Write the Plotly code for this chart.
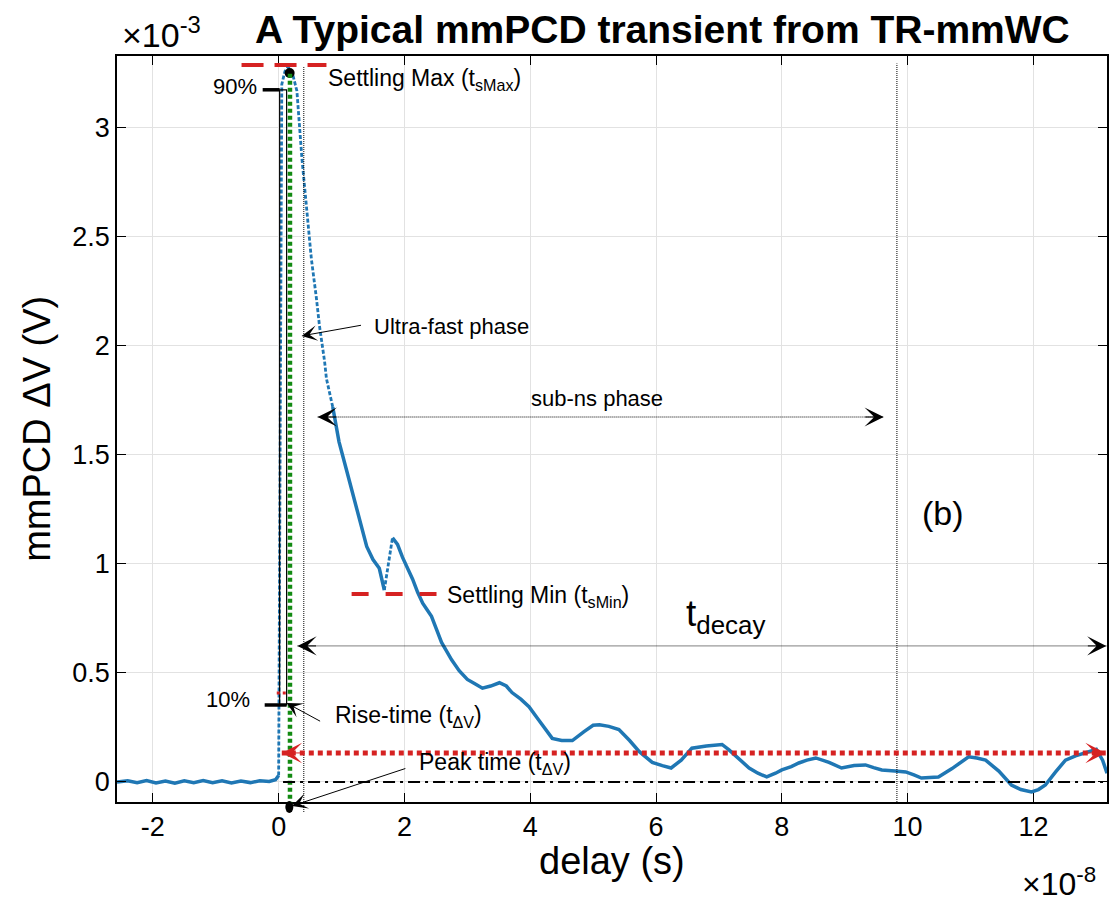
import plotly.graph_objects as go

# ---------------- data (delay in units of 1e-8 s, dV in units of 1e-3 V) -------------
delay = [-2.57, -2.4, -2.25, -2.1, -1.95, -1.8, -1.65, -1.5, -1.35, -1.2, -1.05, -0.9,
         -0.75, -0.6, -0.45, -0.3, -0.15, -0.05, 0.0,
         0.02, 0.05, 0.10, 0.15, 0.22, 0.29, 0.37, 0.45, 0.52, 0.60, 0.65, 0.73, 0.76, 0.86,
         0.96, 1.08, 1.16, 1.24, 1.32, 1.40, 1.50, 1.60, 1.68,
         1.81, 1.89, 1.97, 2.05, 2.13, 2.21, 2.29, 2.36, 2.43, 2.51, 2.59, 2.67, 2.75, 2.87,
         3.0, 3.12, 3.24, 3.37, 3.51, 3.62, 3.71, 3.85, 3.98, 4.12, 4.25, 4.35, 4.5, 4.67,
         4.85, 5.0, 5.1, 5.25, 5.41, 5.58, 5.73, 5.94, 6.1, 6.24, 6.4, 6.57, 6.8, 7.0, 7.05,
         7.16, 7.3, 7.48, 7.62, 7.76, 7.9, 8.0, 8.15, 8.27, 8.4, 8.54, 8.75, 8.95, 9.15, 9.33,
         9.46, 9.59, 9.8, 9.97, 10.1, 10.22, 10.35, 10.49, 10.7, 10.97, 11.1, 11.24, 11.45,
         11.65, 11.8, 11.97, 12.08, 12.19, 12.35, 12.51, 12.67, 12.83, 13.0, 13.1, 13.17]
dv = [0.0, 0.005, -0.004, 0.006, -0.005, 0.004, -0.006, 0.005, -0.003, 0.006, -0.004, 0.005,
      -0.005, 0.004, -0.003, 0.005, 0.002, 0.01, 0.03,
      1.6, 3.2, 3.26, 3.28, 3.25, 3.17, 2.86, 2.60, 2.40, 2.22, 2.09, 1.93, 1.85, 1.72,
      1.56, 1.43, 1.34, 1.26, 1.17, 1.08, 1.02, 0.98, 0.88,
      1.12, 1.09, 1.03, 0.98, 0.93, 0.87, 0.82, 0.79, 0.76, 0.70, 0.64, 0.60, 0.56, 0.51,
      0.47, 0.45, 0.43, 0.44, 0.455, 0.44, 0.41, 0.38, 0.345, 0.29, 0.24, 0.20, 0.19, 0.19,
      0.23, 0.26, 0.262, 0.255, 0.24, 0.19, 0.14, 0.09, 0.075, 0.064, 0.10, 0.155, 0.165, 0.17, 0.172,
      0.147, 0.11, 0.064, 0.04, 0.023, 0.04, 0.055, 0.07, 0.087, 0.10, 0.11, 0.09, 0.064, 0.075, 0.078,
      0.066, 0.055, 0.05, 0.046, 0.032, 0.018, 0.02, 0.023, 0.06, 0.115, 0.11, 0.10, 0.05,
      -0.014, -0.035, -0.046, -0.035, -0.014, 0.045, 0.10, 0.12, 0.133, 0.15, 0.10, 0.04]

x_ticks = [-2, 0, 2, 4, 6, 8, 10, 12]
x_tick_labels = ["-2", "0", "2", "4", "6", "8", "10", "12"]
y_ticks = [0, 0.5, 1, 1.5, 2, 2.5, 3]
y_tick_labels = ["0", "0.5", "1", "1.5", "2", "2.5", "3"]

# characteristic values (same units)
t_rise_start, t_rise_end = 0.016, 0.127
v10, v90 = 0.353, 3.175
t_peak = 0.18
peak_point = (0.175, 3.252)
t_ultrafast_end = 0.40
t_subns_end = 9.83
v_settle_max, t_settle_max = 3.289, (-0.59, 0.76)
v_settle_min, t_settle_min = 0.862, (1.16, 2.51)
subns_arrow = (0.62, 9.62, 1.674)
decay_arrow = (0.30, 13.16, 0.624)
red_arrow = (0.05, 13.15, 0.133)
zero_ref = (0.07, 13.17, 0.0)

XR = [-2.57, 13.17]
YR = [-0.092, 3.33]

BLUE = "#1f77b4"
RED = "#d62222"
GREEN = "#128a12"
FONT = "Liberation Sans, Arial, sans-serif"


def ypaper(v):
    return (v - YR[0]) / (YR[1] - YR[0])


fig = go.Figure()

i_rise = delay.index(0.0)
i_fast = delay.index(0.86)
i_min = delay.index(1.68)
i_jump = delay.index(1.81)
segments = [(0, i_rise, "solid", 3.5), (i_rise, i_fast, "4px,2px", 2.8),
            (i_fast, i_min, "solid", 3.5), (i_min, i_jump, "4px,2px", 2.8),
            (i_jump, len(delay) - 1, "solid", 3.5)]
for a, b, dash, w in segments:
    fig.add_trace(go.Scatter(x=delay[a:b + 1], y=dv[a:b + 1], mode="lines",
                             line=dict(color=BLUE, width=w, dash=dash),
                             showlegend=False, hoverinfo="skip"))

fig.add_trace(go.Scatter(x=[peak_point[0]], y=[peak_point[1]],
                         mode="markers", marker=dict(color="black", size=10),
                         cliponaxis=False, showlegend=False, hoverinfo="skip"))

shapes = []
shapes.append(dict(type="rect", x0=t_rise_start, x1=t_rise_end, y0=v10, y1=v90,
                   line=dict(color="black", width=1.2)))
shapes.append(dict(type="line", x0=-0.254, x1=t_rise_start, y0=v90, y1=v90,
                   line=dict(color="black", width=3.5)))
shapes.append(dict(type="line", x0=-0.222, x1=t_rise_end, y0=v10, y1=v10,
                   line=dict(color="black", width=3.5)))
shapes.append(dict(type="line", x0=-0.03, x1=0.17, y0=0.408, y1=0.408,
                   line=dict(color=RED, width=3, dash="3px,3px")))
shapes.append(dict(type="line", xref="x", yref="paper", x0=t_peak, x1=t_peak,
                   y0=-0.005, y1=ypaper(3.255), line=dict(color=GREEN, width=4.5, dash="4px,3px")))
shapes.append(dict(type="line", xref="x", yref="paper", x0=t_ultrafast_end, x1=t_ultrafast_end,
                   y0=-0.0134, y1=ypaper(3.28), line=dict(color="black", width=1, dash="1px,1px")))
shapes.append(dict(type="line", xref="x", yref="paper", x0=t_subns_end, x1=t_subns_end,
                   y0=0, y1=0.99, line=dict(color="black", width=1, dash="1px,1px")))
shapes.append(dict(type="line", x0=t_settle_max[0], x1=t_settle_max[1], y0=v_settle_max,
                   y1=v_settle_max, line=dict(color=RED, width=4, dash="22px,11px")))
shapes.append(dict(type="line", x0=t_settle_min[0], x1=t_settle_min[1], y0=v_settle_min,
                   y1=v_settle_min, line=dict(color=RED, width=4, dash="17px,17px")))
for (xa, xb, yv) in [subns_arrow, decay_arrow]:
    shapes.append(dict(type="line", x0=xa, x1=xb, y0=yv, y1=yv,
                       line=dict(color="black", width=1, dash="1px,1px")))
shapes.append(dict(type="line", x0=red_arrow[0], x1=red_arrow[1], y0=red_arrow[2], y1=red_arrow[2],
                   line=dict(color=RED, width=5, dash="5px,4px")))
shapes.append(dict(type="line", x0=zero_ref[0], x1=zero_ref[1], y0=zero_ref[2], y1=zero_ref[2],
                   line=dict(color="black", width=2, dash="12px,5px,3px,5px")))
# peak-time marker dot just below the axis
shapes.append(dict(type="circle", xref="x", yref="paper", xsizemode="pixel", ysizemode="pixel",
                   xanchor=t_peak - 0.01, yanchor=-0.0067, x0=-4, x1=4, y0=-6, y1=6,
                   fillcolor="black", line=dict(color="black", width=0)))

ann = []


def head(x, y, dx, color="black", size=3.2, xref="x", yref="y"):
    ann.append(dict(x=x, y=y, xref=xref, yref=yref, ax=dx, ay=0, text="", showarrow=True,
                    arrowhead=3, arrowsize=size, arrowwidth=1, arrowcolor=color))


def arrow(x, y, ax, ay, size=2.6):
    ann.append(dict(x=x, y=y, xref="x", yref="y", axref="x", ayref="y", ax=ax, ay=ay,
                    text="", showarrow=True, arrowhead=3, arrowsize=size, arrowwidth=1,
                    arrowcolor="black"))


def label(x, y, text, size=22, xanchor="left", xref="x", yref="y", **kw):
    ann.append(dict(x=x, y=y, xref=xref, yref=yref, text=text, showarrow=False,
                    xanchor=xanchor, yanchor="middle", font=dict(family=FONT, size=size, color="black"), **kw))


head(subns_arrow[0], subns_arrow[2], 20)
head(subns_arrow[1], subns_arrow[2], -20)
head(decay_arrow[0], decay_arrow[2], 20)
head(decay_arrow[1], decay_arrow[2], -20)
head(red_arrow[0], red_arrow[2], 22, color=RED, size=3.4)
head(red_arrow[1], red_arrow[2], -22, color=RED, size=3.4)

arrow(0.365, 2.046, 1.333, 2.096)
arrow(0.127, 0.362, 0.683, 0.275)
ann.append(dict(x=0.21, y=-0.0054, xref="x", yref="paper", ax=115, ay=-38, text="",
                showarrow=True, arrowhead=3, arrowsize=2.6, arrowwidth=1, arrowcolor="black"))

label(0.76, 3.22, "Settling Max (t<sub>sMax</sub>)", size=23)
label(-0.32, 3.19, "90%", xanchor="right")
label(-0.43, 0.376, "10%", xanchor="right")
label(1.48, 2.09, "Ultra-fast phase")
label(5.06, 1.76, "sub-ns phase", xanchor="center")
label(6.45, 0.76, "t<sub>decay</sub>", size=37)
label(10.56, 1.234, "(b)", size=34, xanchor="center")
label(2.65, 0.85, "Settling Min (t<sub>sMin</sub>)", size=23)
label(0.857, 0.30, "Rise-time (t<sub>ΔV</sub>)", size=23)
label(2.2, 0.085, "Peak time (t<sub>ΔV</sub>)", size=23)

# titles and multipliers (paper coordinates)
label(0.5514, 1.036, "<b>A Typical mmPCD transient from TR-mmWC</b>", size=39,
      xanchor="center", xref="paper", yref="paper")
label(0.003, 1.032, "×10<sup>-3</sup>", size=34, xref="paper", yref="paper")
label(0.991, -0.107, "×10<sup>-8</sup>", size=32, xanchor="right", xref="paper", yref="paper")
label(0.5, -0.079, "delay (s)", size=38, xanchor="center", xref="paper", yref="paper")
label(-0.081, 0.50, "mmPCD ΔV (V)", size=38, xanchor="center", xref="paper", yref="paper",
      textangle=-90)

axis_common = dict(ticks="inside", ticklen=9, tickwidth=1.2, tickcolor="black", showline=True,
                   linecolor="black", linewidth=1.5, mirror="ticks", showgrid=True,
                   gridcolor="#e2e2e2", gridwidth=1, zeroline=False,
                   tickfont=dict(family=FONT, size=27, color="black"))

fig.update_layout(
    width=1115, height=911, margin=dict(l=117, r=6, t=56, b=109),
    paper_bgcolor="white", plot_bgcolor="white", showlegend=False,
    xaxis=dict(range=XR, tickvals=x_ticks, ticktext=x_tick_labels, **axis_common),
    yaxis=dict(range=YR, tickvals=y_ticks, ticktext=y_tick_labels, **axis_common),
    shapes=shapes, annotations=ann,
)

fig.write_html("out.html")
